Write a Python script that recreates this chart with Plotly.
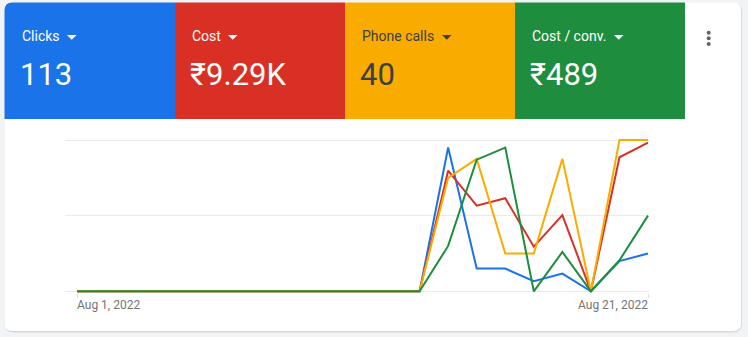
import plotly.graph_objects as go

# ---------------- data ----------------
dates = ["2022-08-%02d" % d for d in range(1, 22)]
clicks = [0, 0, 0, 0, 0, 0, 0, 0, 0, 0, 0, 0, 0, 57, 9, 9, 4, 7, 0, 12, 15]
cost = [0, 0, 0, 0, 0, 0, 0, 0, 0, 0, 0, 0, 0, 1594, 1132, 1230, 590, 1008, 0, 1772, 1964]
phone_calls = [0, 0, 0, 0, 0, 0, 0, 0, 0, 0, 0, 0, 0, 6, 7, 2, 2, 7, 0, 8, 8]
cost_per_conv = [0, 0, 0, 0, 0, 0, 0, 0, 0, 0, 0, 0, 0, 300, 870, 950, 0, 260, 0, 205, 500]

metric_names = ["Clicks", "Cost", "Phone calls", "Cost / conv."]
metric_totals = ["113", "₹9.29K", "40", "₹489"]
axis_max = [60, 2000, 8, 1000]
tick_labels = ["Aug 1, 2022", "Aug 21, 2022"]

series = [clicks, cost, phone_calls, cost_per_conv]
colors = ["#1a73e8", "#d93025", "#f9ab00", "#1e8e3e"]
text_colors = ["#ffffff", "#ffffff", "#3c4043", "#ffffff"]

# ---------------- geometry ----------------
W, H = 748, 337
L, R, T, B = 65, 649, 138, 293
PW, PH = R - L, B - T


def xp(px):
    return (px - L) / PW


def yp(py):
    return (B - py) / PH


def yrange(m):
    return [-0.01124 * m, 1.0132 * m]


fig = go.Figure()
for i, (name, vals, col) in enumerate(zip(metric_names, series, colors)):
    fig.add_trace(go.Scatter(
        x=dates, y=vals, name=name, mode="lines",
        line=dict(color=col, width=2),
        yaxis="y" if i == 0 else "y%d" % (i + 1),
        hoverinfo="skip", showlegend=False,
    ))

shapes = []


def rounded_rect(x0, y0, x1, y1, r, tl=True, tr=True, br=True, bl=True):
    p = []
    p.append("M%f,%f" % (xp(x0 + (r if tl else 0)), yp(y0)))
    if tr:
        p.append("L%f,%f" % (xp(x1 - r), yp(y0)))
        p.append("Q%f,%f %f,%f" % (xp(x1), yp(y0), xp(x1), yp(y0 + r)))
    else:
        p.append("L%f,%f" % (xp(x1), yp(y0)))
    if br:
        p.append("L%f,%f" % (xp(x1), yp(y1 - r)))
        p.append("Q%f,%f %f,%f" % (xp(x1), yp(y1), xp(x1 - r), yp(y1)))
    else:
        p.append("L%f,%f" % (xp(x1), yp(y1)))
    if bl:
        p.append("L%f,%f" % (xp(x0 + r), yp(y1)))
        p.append("Q%f,%f %f,%f" % (xp(x0), yp(y1), xp(x0), yp(y1 - r)))
    else:
        p.append("L%f,%f" % (xp(x0), yp(y1)))
    if tl:
        p.append("L%f,%f" % (xp(x0), yp(y0 + r)))
        p.append("Q%f,%f %f,%f" % (xp(x0), yp(y0), xp(x0 + r), yp(y0)))
    else:
        p.append("L%f,%f" % (xp(x0), yp(y0)))
    p.append("Z")
    return " ".join(p)


# card shadow + card
shapes.append(dict(type="path", xref="paper", yref="paper", layer="below",
                   path=rounded_rect(4.5, 3, 742, 332.5, 9),
                   fillcolor="#d7d9dc", line=dict(width=0)))
shapes.append(dict(type="path", xref="paper", yref="paper", layer="below",
                   path=rounded_rect(4.5, 2.5, 741, 331, 8),
                   fillcolor="#ffffff", line=dict(width=0)))

tile_x = [5, 175, 345, 515, 685]
for i in range(4):
    x0, x1 = tile_x[i], tile_x[i + 1]
    shapes.append(dict(type="path", xref="paper", yref="paper", layer="below",
                       path=rounded_rect(x0 if i else 4.5, 2.5, x1, 119, 8,
                                         tl=(i == 0), tr=False, br=False, bl=False),
                       fillcolor=colors[i], line=dict(width=0)))

caret_x = [67, 228, 442, 614]
for i, cx in enumerate(caret_x):
    path = "M%f,%f L%f,%f L%f,%f Z" % (xp(cx), yp(35), xp(cx + 9.5), yp(35),
                                       xp(cx + 4.75), yp(39.8))
    shapes.append(dict(type="path", xref="paper", yref="paper",
                       path=path, fillcolor=text_colors[i], line=dict(width=0)))

for cy in [32.7, 38.3, 44.0]:
    shapes.append(dict(type="circle", xref="paper", yref="paper",
                       x0=xp(706.7), x1=xp(710.7), y0=yp(cy - 2), y1=yp(cy + 2),
                       fillcolor="#5f6368", line=dict(width=0)))

annotations = []
for i in range(4):
    tx = tile_x[i] + 16
    annotations.append(dict(xref="paper", yref="paper", x=xp(tx - 1.5), y=yp(36.3),
                            xanchor="left", yanchor="middle", showarrow=False,
                            text=metric_names[i],
                            font=dict(family="Roboto", size=14,
                                      color=text_colors[i])))
    annotations.append(dict(xref="paper", yref="paper", x=xp(tx - 3), y=yp(74.5),
                            xanchor="left", yanchor="middle", showarrow=False,
                            text=metric_totals[i],
                            font=dict(family="Roboto", size=31,
                                      color=text_colors[i])))

annotations.append(dict(xref="x", yref="paper", x=dates[0], y=yp(305),
                        xanchor="left", yanchor="middle", showarrow=False,
                        text=tick_labels[0], xshift=-2,
                        font=dict(family="Roboto", size=12, color="#757575")))
annotations.append(dict(xref="x", yref="paper", x=dates[-1], y=yp(305),
                        xanchor="right", yanchor="middle", showarrow=False,
                        text=tick_labels[1], xshift=2,
                        font=dict(family="Roboto", size=12, color="#757575")))

common_y = dict(showticklabels=False, zeroline=False, showline=False, fixedrange=True)
fig.update_layout(
    width=W, height=H,
    margin=dict(l=L, r=W - R, t=T, b=H - B, pad=0),
    paper_bgcolor="#f1f3f4",
    plot_bgcolor="rgba(0,0,0,0)",
    showlegend=False,
    xaxis=dict(type="date", range=["2022-07-31 13:55", "2022-08-21 00:50"],
               tickvals=[dates[0], dates[-1]], showticklabels=False,
               ticks="outside", ticklen=4, tickcolor="#dadce0", tickwidth=1,
               showgrid=False, zeroline=False, showline=False),
    yaxis=dict(range=yrange(axis_max[0]), tickvals=[0, axis_max[0] / 2, axis_max[0]],
               showgrid=True, gridcolor="#e8eaed", gridwidth=1.3, **common_y),
    yaxis2=dict(range=yrange(axis_max[1]), overlaying="y", showgrid=False, **common_y),
    yaxis3=dict(range=yrange(axis_max[2]), overlaying="y", showgrid=False, **common_y),
    yaxis4=dict(range=yrange(axis_max[3]), overlaying="y", showgrid=False, **common_y),
    shapes=shapes,
    annotations=annotations,
    font=dict(family="Roboto"),
)

fig.write_html("out.html")
